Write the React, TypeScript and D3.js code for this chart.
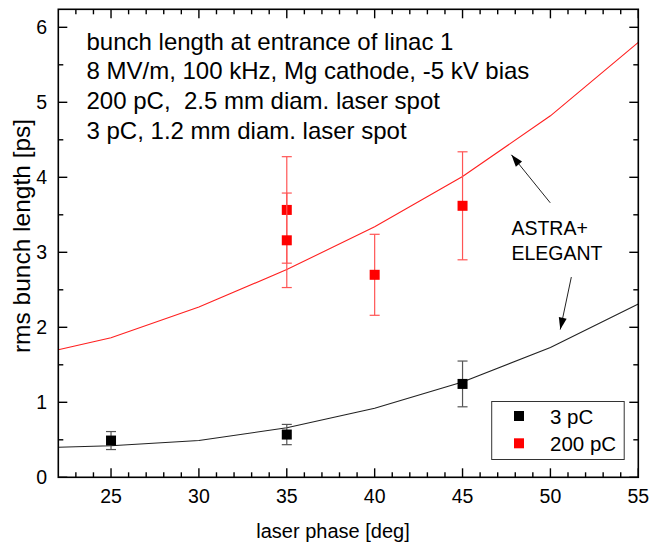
import React from "react";
import * as d3 from "d3";

// ---- data ----
const simPhase = [22, 25, 30, 35, 40, 45, 50, 55];
const sim200pC = [1.7, 1.86, 2.27, 2.77, 3.34, 4.01, 4.82, 5.8];
const sim3pC = [0.4, 0.42, 0.49, 0.66, 0.92, 1.27, 1.73, 2.31];

const meas3Phase = [25, 35, 45];
const meas3Value = [0.49, 0.57, 1.245];
const meas3Err = [0.12, 0.135, 0.305];

const meas200Phase = [35, 35, 40, 45];
const meas200Value = [3.565, 3.16, 2.7, 3.62];
const meas200Err = [0.71, 0.63, 0.54, 0.72];

const xMajorTicks = [25, 30, 35, 40, 45, 50, 55];
const yMajorTicks = [0, 1, 2, 3, 4, 5, 6];

const infoLines = [
  "bunch length at entrance of linac 1",
  "8 MV/m, 100 kHz, Mg cathode, -5 kV bias",
  "200 pC,  2.5 mm diam. laser spot",
  "3 pC, 1.2 mm diam. laser spot",
];
const legendLabels = ["3 pC", "200 pC"];
const annotationLines = ["ASTRA+", "ELEGANT"];
// arrows in data coordinates: [tailX, tailY, tipX, tipY]
const arrows = [
  [49.99, 3.66, 47.78, 4.3],
  [51.19, 2.67, 50.56, 1.97],
];
const annotationPos = [47.78, 3.23];

const W = 652;
const H = 544;
const L = 58.3, R = 638.3, T = 9.3, B = 477.3;
const FONT = "'Liberation Sans', Arial, Helvetica, sans-serif";

export default function App() {
  const x = d3.scaleLinear().domain([22, 55]).range([L, R]);
  const y = d3.scaleLinear().domain([0, 6.24]).range([B, T]);

  const xMinor = d3.range(23, 55, 1).filter((v) => v % 5 !== 0);
  const yMinor = d3.range(0.5, 6.2, 1);

  const line = d3
    .line<[number, number]>()
    .x((d) => x(d[0]))
    .y((d) => y(d[1]));
  const redPts: [number, number][] = simPhase.map((p, i) => [p, sim200pC[i]]);
  const blackPts: [number, number][] = simPhase.map((p, i) => [p, sim3pC[i]]);

  const MS = 10; // marker size
  const CAP = 5;

  const errBars = (
    phases: number[],
    vals: number[],
    errs: number[],
    color: string,
    fill: string,
    key: string
  ) =>
    phases.map((p, i) => {
      const cx = x(p);
      const yt = y(vals[i] + errs[i]);
      const yb = y(vals[i] - errs[i]);
      const cy = y(vals[i]);
      return (
        <g key={key + i}>
          <line x1={cx} x2={cx} y1={yt} y2={yb} stroke={color} strokeWidth={1.2} />
          <line x1={cx - CAP} x2={cx + CAP} y1={yt} y2={yt} stroke={color} strokeWidth={1.2} />
          <line x1={cx - CAP} x2={cx + CAP} y1={yb} y2={yb} stroke={color} strokeWidth={1.2} />
          <rect x={cx - MS / 2} y={cy - MS / 2} width={MS} height={MS} fill={fill} />
        </g>
      );
    });

  const arrowHead = (tx: number, ty: number, fx: number, fy: number, k: string) => {
    const ang = Math.atan2(ty - fy, tx - fx);
    const len = 12;
    const half = 4;
    const bx = tx - len * Math.cos(ang);
    const by = ty - len * Math.sin(ang);
    const px = -Math.sin(ang) * half;
    const py = Math.cos(ang) * half;
    return (
      <polygon
        key={k}
        points={`${tx},${ty} ${bx + px},${by + py} ${bx - px},${by - py}`}
        fill="#000"
      />
    );
  };

  return (
    <svg
      width={W}
      height={H}
      style={{ position: "absolute", left: 0, top: 0, background: "#fff" }}
      fontFamily={FONT}
    >
      <rect x={0} y={0} width={W} height={H} fill="#fff" />
      <defs>
        <clipPath id="plotclip">
          <rect x={L} y={T} width={R - L} height={B - T} />
        </clipPath>
      </defs>

      {/* simulation curves */}
      <g clipPath="url(#plotclip)">
        <path d={line(redPts) || ""} fill="none" stroke="#ff2020" strokeWidth={1.1} />
        <path d={line(blackPts) || ""} fill="none" stroke="#222" strokeWidth={1.1} />
      </g>

      {/* measurements */}
      {errBars(meas3Phase, meas3Value, meas3Err, "#555", "#000", "b")}
      {errBars(meas200Phase, meas200Value, meas200Err, "#ff5555", "#ff0000", "r")}

      {/* axes frame */}
      <rect x={L} y={T} width={R - L} height={B - T} fill="none" stroke="#000" strokeWidth={1.6} />

      {/* x ticks bottom & top */}
      {xMajorTicks.map((t) => (
        <g key={"xm" + t}>
          <line x1={x(t)} x2={x(t)} y1={B} y2={B - 9} stroke="#000" strokeWidth={1.4} />
          <line x1={x(t)} x2={x(t)} y1={T} y2={T + 9} stroke="#000" strokeWidth={1.4} />
          <text x={x(t)} y={503} textAnchor="middle" fontSize={19.5} fill="#000">
            {t}
          </text>
        </g>
      ))}
      {xMinor.map((t) => (
        <g key={"xn" + t}>
          <line x1={x(t)} x2={x(t)} y1={B} y2={B - 5} stroke="#000" strokeWidth={1.4} />
          <line x1={x(t)} x2={x(t)} y1={T} y2={T + 5} stroke="#000" strokeWidth={1.4} />
        </g>
      ))}

      {/* y ticks left & right */}
      {yMajorTicks.map((t) => (
        <g key={"ym" + t}>
          <line x1={L} x2={L + 9} y1={y(t)} y2={y(t)} stroke="#000" strokeWidth={1.4} />
          <line x1={R} x2={R - 9} y1={y(t)} y2={y(t)} stroke="#000" strokeWidth={1.4} />
          <text x={47} y={y(t) + 7} textAnchor="end" fontSize={19.5} fill="#000">
            {t}
          </text>
        </g>
      ))}
      {yMinor.map((t) => (
        <g key={"yn" + t}>
          <line x1={L} x2={L + 5} y1={y(t)} y2={y(t)} stroke="#000" strokeWidth={1.4} />
          <line x1={R} x2={R - 5} y1={y(t)} y2={y(t)} stroke="#000" strokeWidth={1.4} />
        </g>
      ))}

      {/* axis titles */}
      <text x={333} y={538} textAnchor="middle" fontSize={20} fill="#000">
        laser phase [deg]
      </text>
      <text
        transform={`translate(30, 236) rotate(-90)`}
        textAnchor="middle"
        fontSize={24.5}
        fill="#000"
      >
        rms bunch length [ps]
      </text>

      {/* info text */}
      {infoLines.map((s, i) => (
        <text
          key={"info" + i}
          x={86.5}
          y={49.5 + i * 29.7}
          fontSize={24}
          fill="#000"
          style={{ whiteSpace: "pre" }}
        >
          {s}
        </text>
      ))}

      {/* annotation */}
      {annotationLines.map((s, i) => (
        <text
          key={"ann" + i}
          x={x(annotationPos[0])}
          y={y(annotationPos[1]) + i * 24.5}
          fontSize={19.5}
          fill="#000"
        >
          {s}
        </text>
      ))}
      {arrows.map((a, i) => (
        <g key={"arr" + i}>
          <line x1={x(a[0])} y1={y(a[1])} x2={x(a[2])} y2={y(a[3])} stroke="#222" strokeWidth={1} />
          {arrowHead(x(a[2]), y(a[3]), x(a[0]), y(a[1]), "ah" + i)}
        </g>
      ))}

      {/* legend */}
      <g>
        <rect x={491.7} y={401.5} width={132.5} height={58} fill="#fff" stroke="#333" strokeWidth={1} />
        {legendLabels.map((s, i) => (
          <g key={"lg" + i}>
            <rect
              x={519 - MS / 2}
              y={416 + i * 27.3 - MS / 2}
              width={MS}
              height={MS}
              fill={i === 0 ? "#000" : "#ff0000"}
            />
            <text x={550} y={423.5 + i * 27.3} fontSize={20.5} fill="#000">
              {s}
            </text>
          </g>
        ))}
      </g>
    </svg>
  );
}
